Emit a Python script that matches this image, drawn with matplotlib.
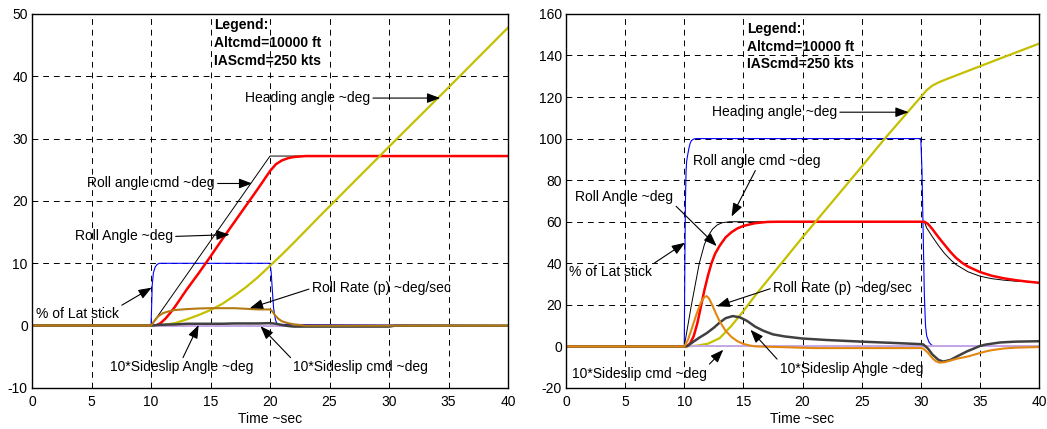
import matplotlib
matplotlib.use("Agg")
import matplotlib.pyplot as plt

plt.rcParams['font.family'] = ['Liberation Sans', 'DejaVu Sans']
plt.rcParams['font.size'] = 10
plt.rcParams['axes.unicode_minus'] = False

# ---------------- left case: 27 deg bank ----------------
t_stick_L = [0, 10.0, 10.05, 10.1, 10.2, 10.35, 10.5, 10.7, 20.0, 20.1, 20.2, 20.3, 20.45, 20.6, 40]
stick_L = [0, 0, 3, 6.5, 8.5, 9.4, 9.8, 10, 10, 8.5, 5.5, 2.8, 1.0, 0.2, 0]

t_cmd_L = [0, 10, 20, 40]
cmd_L = [0, 0, 27.2, 27.2]

t_roll_L = [0, 10.4, 10.8, 11.2, 11.6, 12, 12.5, 13, 14, 15, 16, 17, 18, 19, 20,
            20.5, 21, 21.5, 22, 23, 40]
roll_L = [0, 0, 0.4, 1.1, 2.0, 3.0, 4.4, 5.8, 8.4, 11.1, 13.9, 16.6, 19.3, 22.0, 24.8,
          25.9, 26.5, 26.85, 27.05, 27.2, 27.2]

t_head_L = [0, 10, 11, 12, 13, 14, 15, 16, 17, 18, 19, 20, 21, 22, 24.2, 30, 35, 40]
head_L = [0, 0, 0.1, 0.4, 1.0, 1.7, 2.5, 3.5, 4.8, 6.2, 7.8, 9.6, 11.4, 13.3, 17.6, 28.7, 38.2, 47.8]

t_p_L = [0, 10, 10.3, 10.6, 11, 11.5, 12, 13, 14, 15, 16, 17, 18, 19, 20,
         20.2, 20.4, 20.7, 21, 21.5, 22, 22.5, 23, 40]
p_L = [0, 0, 0.8, 1.5, 2.0, 2.3, 2.5, 2.65, 2.75, 2.8, 2.8, 2.8, 2.7, 2.6, 2.6,
       2.3, 1.7, 1.1, 0.7, 0.4, 0.2, 0.1, 0, 0]

t_beta_L = [0, 10, 10.5, 11, 12, 13, 14, 15, 16, 17, 18, 19, 20, 20.5, 21, 21.5, 22, 30, 30.5, 40]
beta_L = [0, 0, 0.1, 0.15, 0.2, 0.3, 0.3, 0.3, 0.3, 0.35, 0.35, 0.35, 0.4, 0.3, 0.1, -0.05, -0.15, -0.15, 0, 0]

t_bcmd_L = [0, 40]
bcmd_L = [0, 0]

# ---------------- right case: 60 deg bank ----------------
t_stick_R = [0, 10, 10.05, 10.1, 10.15, 10.2, 10.3, 10.4, 10.5, 10.6, 10.8, 11,
             30.0, 30.1, 30.2, 30.3, 30.4, 30.5, 30.7, 30.9, 31.2, 40]
stick_R = [0, 0, 40, 70, 84, 89, 92.5, 95.5, 97.8, 99, 99.8, 100,
           100, 85, 55, 25, 10, 5, 2, 0.7, 0, 0]

t_cmd_R = [0, 10, 10.6, 11.27, 11.7, 12.0, 12.4, 12.8, 13.2, 13.8, 30.3, 30.5, 31, 31.5,
           32, 32.5, 33, 34, 35, 36, 37, 38, 40]
cmd_R = [0, 0, 19.8, 40, 49, 53, 56.5, 58.5, 59.5, 60, 60, 57, 52.6, 48.5,
         44.8, 41.8, 39.3, 35.9, 33.8, 32.6, 31.9, 31.4, 30.8]

t_roll_R = [0, 10.2, 10.5, 10.8, 11.1, 11.4, 11.7, 12.0, 12.3, 12.6, 13.0, 13.5, 14, 14.5,
            15, 16, 17, 18, 30.3, 30.6, 31, 31.5, 32, 32.5, 33, 33.5, 34, 35, 36, 37,
            38, 39, 40]
roll_R = [0, 0, 1.5, 5, 11, 19, 27, 34, 40, 44.5, 48.5, 52.5, 55, 56.8,
          58, 59.3, 59.9, 60, 60, 59, 56.3, 52.5, 49, 45.5, 42.5, 40.2, 38.4, 35.8, 34, 32.8,
          31.9, 31.2, 30.6]

t_head_R = [0, 10, 11, 12, 13, 14, 15, 16, 17, 18, 19, 20, 25, 27, 30, 30.5, 31, 31.5, 32, 35, 40]
head_R = [0, 0, 0.3, 1.3, 4, 10, 17, 24.5, 31.5, 38.5, 45.5, 52.5, 86.5, 100.3, 120,
          123.3, 125.6, 127, 128.2, 134.8, 145.7]

t_p_R = [0, 10, 10.3, 10.6, 11, 11.4, 11.7, 11.9, 12.1, 12.4, 12.7, 13, 13.5, 14, 14.5,
         15, 15.5, 16, 18, 21, 30, 30.2, 30.6, 31, 31.3, 31.6, 32, 32.5, 33, 33.5,
         34, 35, 35.5, 36, 37, 38, 40]
p_R = [0, 0, 3, 8, 15, 21, 23.8, 24.2, 23, 19.5, 15.5, 12, 7.5, 4.5, 2.5,
       1.2, 0.5, 0, -0.3, -0.8, -0.8, -1.0, -3, -5.8, -7.2, -7.8, -7.6, -6.8, -6.0, -5.4,
       -4.8, -3.2, -2.4, -1.8, -1.0, -0.6, -0.3]

t_beta_R = [0, 10, 10.3, 10.8, 11.3, 11.9, 12.5, 13, 13.5, 14.1, 14.7, 15.3, 16, 16.7,
            17.5, 18.5, 20, 22, 25, 28, 30, 30.2, 30.6, 31, 31.5, 31.9, 32.5, 33, 33.9,
            34.5, 35, 35.5, 36.7, 38, 40]
beta_R = [0, 0, 0.3, 2.4, 4.3, 6.4, 9.0, 11.5, 13.6, 14.6, 14, 12.3, 9.5, 7.5,
          5.8, 4.8, 3.8, 3.1, 2.3, 1.6, 1.1, 1.0, -1, -4, -6.5, -7.3, -6.5, -5, -2.4,
          -1, 0.2, 0.9, 1.9, 2.3, 2.5]

t_bcmd_R = [0, 40]
bcmd_R = [0, 0]

C_BLUE = '#0000ff'
C_RED = '#ff0000'
C_YEL = '#c4c000'
C_GRAY = '#404040'
C_LAV = '#c8a8e8'

fig = plt.figure(figsize=(10.47, 4.29), dpi=100)
axL = fig.add_axes([0.0306, 0.0956, 0.4546, 0.872])
axR = fig.add_axes([0.5406, 0.0956, 0.4518, 0.872])


def draw(ax, d, p_col):
    ax.plot(d['stick'][0], d['stick'][1], color=C_BLUE, lw=0.8)
    ax.plot(d['cmd'][0], d['cmd'][1], color='k', lw=0.7)
    ax.plot(d['roll'][0], d['roll'][1], color=C_RED, lw=1.8)
    ax.plot(d['head'][0], d['head'][1], color=C_YEL, lw=1.6)
    ax.plot(d['bcmd'][0], d['bcmd'][1], color=C_LAV, lw=1.4)
    ax.plot(d['beta'][0], d['beta'][1], color=C_GRAY, lw=1.8)
    ax.plot(d['p'][0], d['p'][1], color=p_col, lw=1.5)
    ax.set_xlim(0, 40)
    ax.set_xticks(range(0, 41, 5))
    ax.grid(True, color='k', lw=0.7, linestyle=(0, (6, 5)))
    ax.tick_params(direction='in', length=3, width=0.6, pad=3, labelsize=10)
    ax.tick_params(axis='x', pad=5)
    for s in ax.spines.values():
        s.set_linewidth(1.0)
    ax.set_xlabel('Time ~sec', fontsize=10, labelpad=2.5)


def note(ax, text, tip, pos, rel):
    ax.annotate(text, xy=tip, xytext=pos, ha='left', va='center', fontsize=10,
                arrowprops=dict(arrowstyle='-|>,head_length=0.8,head_width=0.3',
                                color='k', lw=0.8, relpos=rel, shrinkA=0, shrinkB=0))


dL = dict(stick=(t_stick_L, stick_L), cmd=(t_cmd_L, cmd_L), roll=(t_roll_L, roll_L),
          head=(t_head_L, head_L), p=(t_p_L, p_L), beta=(t_beta_L, beta_L),
          bcmd=(t_bcmd_L, bcmd_L))
dR = dict(stick=(t_stick_R, stick_R), cmd=(t_cmd_R, cmd_R), roll=(t_roll_R, roll_R),
          head=(t_head_R, head_R), p=(t_p_R, p_R), beta=(t_beta_R, beta_R),
          bcmd=(t_bcmd_R, bcmd_R))

draw(axL, dL, '#b47a12')
axL.set_ylim(-10, 50)
axL.set_yticks(range(-10, 51, 10))

draw(axR, dR, '#e3870f')
axR.set_ylim(-20, 160)
axR.set_yticks(range(-20, 161, 20))

# legend blocks
for ax, ys in ((axL, (48.2, 45.3, 42.5)), (axR, (152.6, 144.1, 136.0))):
    for txt, y in zip(['Legend:', 'Altcmd=10000 ft', 'IAScmd=250 kts'], ys):
        ax.text(15.3, y, txt, fontsize=10, fontweight='bold', ha='left', va='center')

# left annotations
note(axL, 'Heading angle ~deg', (34.3, 36.5), (17.9, 36.5), (1, 0.5))
note(axL, 'Roll angle cmd ~deg', (18.5, 22.8), (4.65, 22.8), (1, 0.5))
note(axL, 'Roll Angle ~deg', (16.6, 14.6), (3.6, 14.3), (1, 0.5))
note(axL, '% of Lat stick', (10.06, 6.1), (0.34, 1.9), (1, 1))
note(axL, 'Roll Rate (p) ~deg/sec', (18.3, 2.8), (23.5, 6.0), (0, 0.5))
note(axL, '10*Sideslip Angle ~deg', (14.0, 0.1), (6.55, -6.7), (0.5, 1))
note(axL, '10*Sideslip cmd ~deg', (19.2, -0.1), (21.95, -6.7), (0, 1))

# right annotations
note(axR, 'Heading angle ~deg', (28.97, 112.7), (12.34, 112.7), (1, 0.5))
note(axR, 'Roll angle cmd ~deg', (14.0, 62.5), (10.74, 89.3), (0.5, 0))
note(axR, 'Roll Angle ~deg', (12.74, 48.3), (0.79, 72.1), (1, 0))
note(axR, '% of Lat stick', (10.06, 49.9), (0.23, 35.9), (1, 1))
note(axR, 'Roll Rate (p) ~deg/sec', (12.74, 19.3), (17.5, 28.2), (0, 0.5))
note(axR, '10*Sideslip Angle ~deg', (15.6, 8.0), (18.06, -10.8), (0, 1))
note(axR, '10*Sideslip cmd ~deg', (13.3, -1.6), (0.5, -13.2), (1, 1))

fig.savefig('out.png', dpi=100)
